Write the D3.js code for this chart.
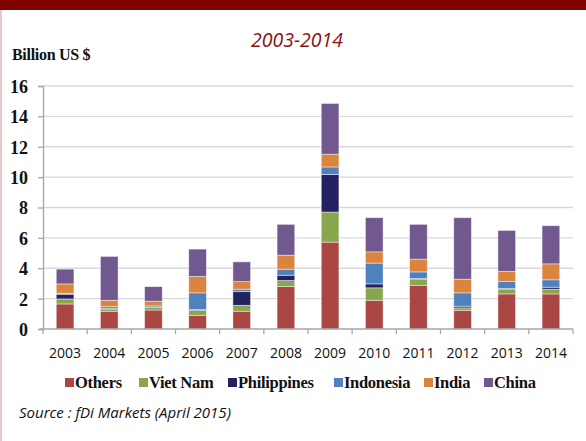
<!DOCTYPE html>
<html>
<head>
<meta charset="utf-8">
<script src="https://cdn.jsdelivr.net/npm/d3@7"></script>
<style>
  html, body { margin: 0; padding: 0; background: #fff; }
  svg { display: block; }
</style>
</head>
<body>
<script>
const years = ["2003","2004","2005","2006","2007","2008","2009","2010","2011","2012","2013","2014"];
const others      = [1.65, 1.17, 1.25, 0.90, 1.17, 2.79, 5.72, 1.89, 2.88, 1.23, 2.31, 2.31];
const vietNam     = [0.33, 0.15, 0.16, 0.33, 0.39, 0.40, 1.98, 0.82, 0.40, 0.16, 0.31, 0.31];
const philippines = [0.31, 0.04, 0.02, 0.05, 0.90, 0.35, 2.47, 0.26, 0.04, 0.11, 0.04, 0.13];
const indonesia   = [0.06, 0.11, 0.09, 1.10, 0.16, 0.40, 0.50, 1.37, 0.44, 0.88, 0.46, 0.49];
const india       = [0.62, 0.42, 0.31, 1.08, 0.50, 0.92, 0.84, 0.74, 0.84, 0.90, 0.67, 1.05];
const china       = [0.97, 2.89, 0.96, 1.80, 1.30, 2.03, 3.34, 2.25, 2.29, 4.05, 2.70, 2.51];
const seriesNames = ["Others", "Viet Nam", "Philippines", "Indonesia", "India", "China"];
const seriesColors = ["#AA4643", "#89A54E", "#242160", "#4F81BD", "#DB843D", "#71588F"];
const yTicks = [0, 2, 4, 6, 8, 10, 12, 14, 16];

const W = 586, H = 441;
const svg = d3.select("body").append("svg").attr("width", W).attr("height", H);

// frame decorations
svg.append("rect").attr("x", 0).attr("y", 0).attr("width", W).attr("height", 10).attr("fill", "#800000");
svg.append("rect").attr("x", 0).attr("y", 10).attr("width", 2).attr("height", H - 10).attr("fill", "#e8c8c8");

const rows = years.map((y, i) => ({
  year: y,
  "Others": others[i], "Viet Nam": vietNam[i], "Philippines": philippines[i],
  "Indonesia": indonesia[i], "India": india[i], "China": china[i]
}));
const stacked = d3.stack().keys(seriesNames)(rows);

const x = d3.scaleBand().domain(years).range([43, 573]).paddingInner(0.6).paddingOuter(0.3);
const y = d3.scaleLinear().domain([0, 16]).range([329, 86]);

// gridlines
svg.append("g").selectAll("line").data(yTicks.filter(t => t > 0)).join("line")
  .attr("x1", 43).attr("x2", 573)
  .attr("y1", d => y(d)).attr("y2", d => y(d))
  .attr("stroke", "#d9d9d9").attr("stroke-width", 1.3);

// y axis
const yAxis = svg.append("g").attr("transform", "translate(43,0)")
  .call(d3.axisLeft(y).tickValues(yTicks).tickSize(5).tickPadding(10).tickFormat(d3.format("d")));
yAxis.select(".domain").attr("stroke", "#a6a6a6").attr("stroke-width", 1.3);
yAxis.selectAll(".tick line").attr("stroke", "#a6a6a6").attr("stroke-width", 1.3);
yAxis.selectAll(".tick text").attr("font-family", "'Liberation Serif', 'Times New Roman', serif")
  .attr("font-weight", "bold").attr("font-size", 18).attr("fill", "#111").attr("dy", "0.36em");

// bars
svg.append("g").selectAll("g").data(stacked).join("g")
  .attr("fill", (d, i) => seriesColors[i])
  .selectAll("rect").data(d => d).join("rect")
  .attr("x", d => x(d.data.year))
  .attr("width", x.bandwidth())
  .attr("y", d => y(d[1]))
  .attr("height", d => Math.max(0, y(d[0]) - y(d[1])))
  .attr("stroke", "#ffffff").attr("stroke-opacity", 0.55).attr("stroke-width", 0.8);

// x axis
const step = x.step();
const xa = svg.append("g");
xa.append("line").attr("x1", 40).attr("x2", 573).attr("y1", 329).attr("y2", 329)
  .attr("stroke", "#a6a6a6").attr("stroke-width", 1.3);
const bounds = d3.range(years.length + 1).map(i => 43 + i * step);
xa.selectAll("line.tk").data(bounds).join("line").attr("class", "tk")
  .attr("x1", d => d).attr("x2", d => d).attr("y1", 329).attr("y2", 334)
  .attr("stroke", "#a6a6a6").attr("stroke-width", 1.3);
xa.selectAll("text").data(years).join("text")
  .attr("x", d => x(d) + x.bandwidth() / 2).attr("y", 358)
  .attr("text-anchor", "middle")
  .attr("font-family", "'Open Sans', sans-serif").attr("font-size", 14).attr("fill", "#111")
  .text(d => d);

// title
svg.append("text").attr("x", 297).attr("y", 47).attr("text-anchor", "middle")
  .attr("font-family", "'Open Sans', sans-serif").attr("font-style", "italic")
  .attr("font-size", 19.5).attr("fill", "#8B1010").text("2003-2014");

// y unit label
svg.append("text").attr("x", 12).attr("y", 60)
  .attr("font-family", "'Liberation Serif', 'Times New Roman', serif").attr("font-weight", "bold")
  .attr("font-size", 16).attr("letter-spacing", -0.3).attr("fill", "#111").text("Billion US $");

// legend
const legendX = [65, 139, 228, 334, 424, 484];
const lg = svg.append("g").selectAll("g").data(seriesNames).join("g")
  .attr("transform", (d, i) => `translate(${legendX[i]},0)`);
lg.append("rect").attr("x", 0).attr("y", 378).attr("width", 9).attr("height", 9)
  .attr("fill", (d, i) => seriesColors[i]);
lg.append("text").attr("x", 10).attr("y", 388)
  .attr("font-family", "'Liberation Serif', 'Times New Roman', serif").attr("font-weight", "bold")
  .attr("font-size", 16.5).attr("letter-spacing", -0.3).attr("fill", "#111").text(d => d);

// source
svg.append("text").attr("x", 19).attr("y", 418)
  .attr("font-family", "'Open Sans', sans-serif").attr("font-style", "italic")
  .attr("font-size", 15).attr("fill", "#111").text("Source : fDi Markets (April 2015)");
</script>
</body>
</html>
